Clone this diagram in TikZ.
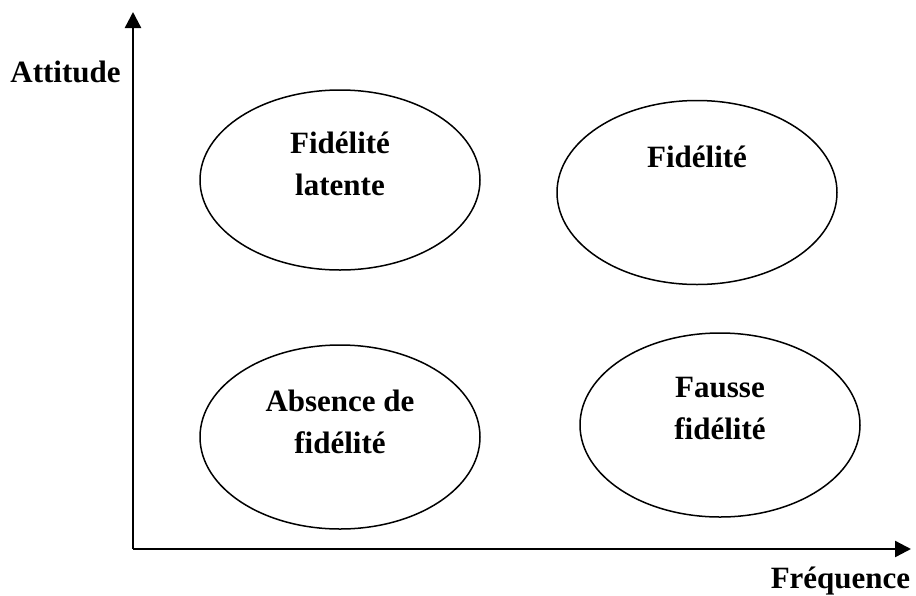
\documentclass[tikz,border=0pt]{standalone}
\usepackage{fontspec}
\setmainfont{Liberation Serif}
\usetikzlibrary{arrows.meta,shapes.geometric}
\begin{document}
\begin{tikzpicture}[x=1pt,y=-1pt,
  axis/.style={line width=2.4pt,-{Triangle[length=16pt,width=16pt]}},
  oval/.style={draw,ellipse,line width=1.5pt,minimum width=280pt,minimum height=184pt,inner sep=0pt},
  lbl/.style={font=\fontsize{31}{42}\selectfont\bfseries,align=center,anchor=base,inner sep=0pt}]
\useasboundingbox (0,0) rectangle (916,595);
\coordinate (O) at (133,549);
\coordinate (Ytop) at (133,12);
\coordinate (Xend) at (911,549);
\draw[axis] (O) -- (Ytop);
\draw[axis] (O) -- (Xend);
\node[oval,minimum height=180pt] (e1) at (340,180) {};
\node[oval] (e2) at (697,192.5) {};
\node[oval] (e3) at (340,437) {};
\node[oval] (e4) at (720,425) {};
\node[lbl] (t1) at (340,195) {Fidélité\\latente};
\node[lbl] (t2) at (697,167) {Fidélité};
\node[lbl] (t3) at (340,453) {Absence de\\fidélité};
\node[lbl] (t4) at (720,439) {Fausse\\fidélité};
\node[lbl] (ya) at (65.5,82) {Attitude};
\node[lbl] (xa) at (840.5,588) {Fréquence};
\end{tikzpicture}
\end{document}
